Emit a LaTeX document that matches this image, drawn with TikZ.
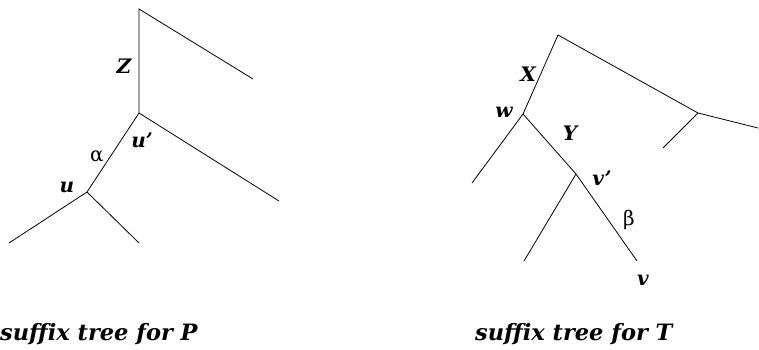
\documentclass[tikz,border=0pt]{standalone}
\usepackage{fontspec}
\setmainfont{DejaVu Serif}
\tikzset{
  edge/.style={line width=0.8pt},
  lbl/.style={font=\fontsize{20}{20}\selectfont\bfseries\itshape, inner sep=0pt},
  greek/.style={font=\fontsize{20}{20}\selectfont, inner sep=0pt},
  caption/.style={font=\fontsize{22.5}{22.5}\selectfont\bfseries\itshape, inner sep=0pt, anchor=base west}
}
\begin{document}
\begin{tikzpicture}[x=1pt,y=-1pt]
\useasboundingbox (0,0) rectangle (759,349);
% suffix tree for P
\coordinate (ztop) at (139,9);
\coordinate (zend) at (253,79);
\coordinate (uprime) at (139,113);
\coordinate (upend) at (279,201);
\coordinate (u) at (87,192);
\coordinate (uleft) at (9,243);
\coordinate (uright) at (139,243);
\draw[edge] (zend) -- (ztop) -- (uprime) -- (u) -- (uleft);
\draw[edge] (uprime) -- (upend);
\draw[edge] (u) -- (uright);
\node[lbl] (labZ) at (124,66) {Z};
\node[greek] (labalpha) at (97,156) {α};
\node[lbl] (labuprime) at (142,140) {u’};
\node[lbl] (labu) at (67,187) {u};
\node[caption] (capP) at (0,340) {suffix tree for P};
% suffix tree for T
\coordinate (root) at (558,35);
\coordinate (w) at (523,114);
\coordinate (wleft) at (472,183);
\coordinate (vprime) at (576,174);
\coordinate (vpleft) at (524,261);
\coordinate (v) at (637,261);
\coordinate (r) at (698,113);
\coordinate (rleft) at (663,148);
\coordinate (rright) at (758,128);
\draw[edge] (wleft) -- (w) -- (root) -- (r) -- (rright);
\draw[edge] (r) -- (rleft);
\draw[edge] (w) -- (vprime) -- (v);
\draw[edge] (vprime) -- (vpleft);
\node[lbl] (labX) at (528,74) {X};
\node[lbl] (labw) at (504,112) {w};
\node[lbl] (labY) at (570,133) {Y};
\node[lbl] (labvprime) at (602,178) {v’};
\node[greek] (labbeta) at (629,220) {β};
\node[lbl] (labv) at (643,280) {v};
\node[caption] (capT) at (475,340) {suffix tree for T};
\end{tikzpicture}
\end{document}
